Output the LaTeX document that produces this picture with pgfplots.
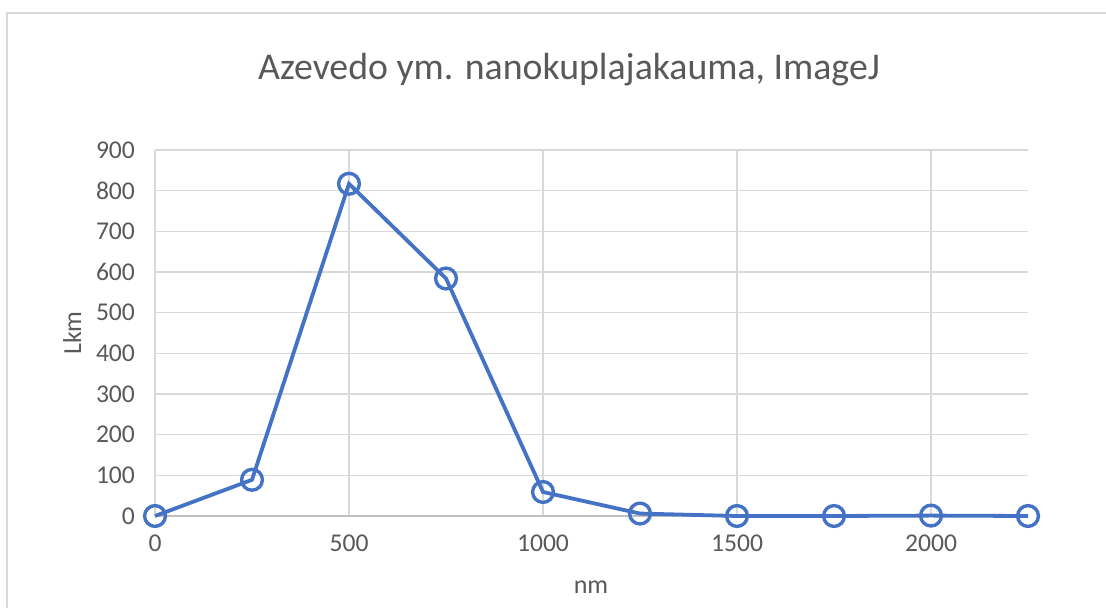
\documentclass[border=0pt]{standalone}
\usepackage{pgfplots}
\pgfplotsset{compat=1.18}
\usepackage{fontspec}
\setmainfont{Carlito}
\definecolor{ser}{HTML}{4472C4}
\definecolor{gridc}{HTML}{D9D9D9}
\definecolor{axc}{HTML}{BFBFBF}
\definecolor{txt}{HTML}{595959}
\definecolor{frame}{HTML}{D9D9D9}

\begin{document}
\begin{tikzpicture}
\useasboundingbox (0,0) rectangle (553pt,304pt);
\draw[frame, line width=1.2pt] (3.5pt,-1pt) -- (3.5pt,297.5pt) -- (554pt,297.5pt);

\begin{axis}[
    at={(77.5pt,46pt)}, anchor=south west,
    scale only axis,
    width=436.5pt, height=183pt,
    xmin=0, xmax=2250, ymin=0, ymax=900,
    xtick={0,500,...,2000},
    ytick={0,100,...,900},
    grid=major,
    major grid style={gridc, line width=0.6pt},
    axis line style={draw=none},
    major tick length=0pt,
    tick label style={font=\fontsize{12.8}{15}\selectfont, text=txt},
    /pgf/number format/assume math mode=true,
    /pgf/number format/1000 sep={},
    yticklabel style={xshift=-6.5pt},
    xticklabel style={yshift=-6pt},
    clip=false,
]
\draw[axc, line width=0.7pt] (axis cs:0,0) -- (axis cs:2250,0);
\addplot[ser, line width=1.9pt, mark=o,
    mark options={line width=1.7pt, scale=2.6, fill=none}]
    coordinates {
    (0,0) (250,89) (500,817) (750,584) (1000,59)
    (1250,6) (1500,0) (1750,0) (2000,1) (2250,0)
};
\end{axis}

\node[text=txt, font=\fontsize{18.9}{22}\selectfont] at (284.5pt,269pt) {Azevedo ym. nanokuplajakauma, ImageJ};
\node[text=txt, font=\fontsize{13}{15}\selectfont, rotate=90] at (36pt,137.5pt) {Lkm};
\node[text=txt, font=\fontsize{13}{15}\selectfont] at (295.5pt,10.5pt) {nm};
\end{tikzpicture}
\end{document}
